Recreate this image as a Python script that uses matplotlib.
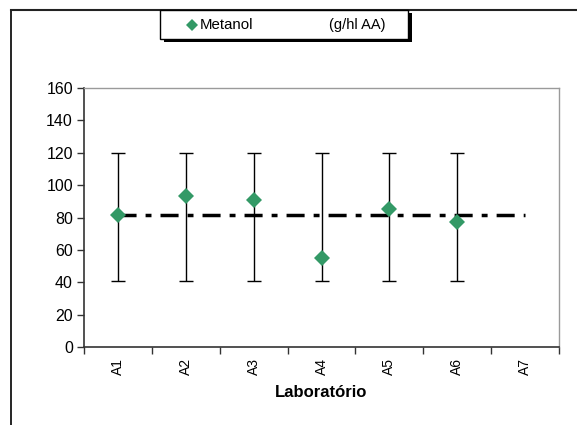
import matplotlib
matplotlib.use("Agg")
import matplotlib.pyplot as plt
import numpy as np
from matplotlib.lines import Line2D
from matplotlib.patches import Rectangle

plt.rcParams['font.family'] = ['Liberation Sans', 'DejaVu Sans']

labs = ["A1", "A2", "A3", "A4", "A5", "A6", "A7"]
values = [81.5, 93.3, 91.0, 55.0, 85.1, 77.0]
low = [41, 41, 41, 41, 41, 41]
high = [120, 120, 120, 120, 120, 120]
ref_value = 81.4

W, H = 577, 425
fig = plt.figure(figsize=(W/100, H/100), dpi=100)

def fx(px): return px / W
def fy(py): return 1 - py / H

ax = fig.add_axes([fx(84), fy(347), fx(559) - fx(84), fy(88) - fy(347)])

xs = np.arange(len(values))
vals = np.array(values)
lo = np.array(low); hi = np.array(high)
ax.errorbar(xs, vals, yerr=[vals - lo, hi - vals], fmt='none', ecolor='black',
            elinewidth=1.0, capsize=5, capthick=1.0, zorder=2)
ax.plot([0, len(labs) - 1], [ref_value, ref_value], color='black', lw=2.5,
        linestyle=(0, (5.2, 2.6, 1.7, 2.6)), zorder=3)
ax.plot(xs, vals, linestyle='none', marker='D', color='#339966', markersize=8.5,
        markeredgewidth=0, zorder=4)

ax.set_xlim(-0.5, len(labs) - 0.5)
ax.set_ylim(0, 160)
ax.set_yticks(np.arange(0, 161, 20))
ax.set_xticks(np.arange(len(labs)))
ax.set_xticklabels(labs, rotation=90, fontsize=10)
ax.set_xticks(np.arange(-0.5, len(labs)), minor=True)
ax.tick_params(axis='x', which='major', length=0, pad=8)
ax.tick_params(axis='x', which='minor', length=5, direction='out', width=1, color='#333333')
ax.tick_params(axis='y', length=5, direction='out', width=1, color='#333333', labelsize=11.5, pad=3)
for s in ['left', 'bottom']:
    ax.spines[s].set_color('#333333'); ax.spines[s].set_linewidth(1.2)
for s in ['top', 'right']:
    ax.spines[s].set_color('#9a9a9a'); ax.spines[s].set_linewidth(1.0)
ax.set_xlabel('Laboratório', fontsize=12, fontweight='bold', labelpad=7)

# figure border lines
fig.add_artist(Line2D([fx(11), fx(11)], [fy(10), 0], color='black', lw=1.2))
fig.add_artist(Line2D([fx(11), 1], [fy(10), fy(10)], color='#222222', lw=1.5))

# legend box with shadow
fig.add_artist(Rectangle((fx(164), fy(42)), fx(408) - fx(160), fy(10) - fy(39),
                         facecolor='black', edgecolor='none', zorder=5))
fig.add_artist(Rectangle((fx(160), fy(39)), fx(408) - fx(160), fy(10) - fy(39),
                         facecolor='white', edgecolor='black', lw=1.0, zorder=6))
fig.add_artist(Line2D([fx(192)], [fy(25)], marker='D', color='#339966', markersize=6.5,
                      markeredgewidth=0, linestyle='none', zorder=7))
fig.text(fx(200), fy(25), 'Metanol', fontsize=10.8, va='center', ha='left', zorder=7)
fig.text(fx(329), fy(25), '(g/hl AA)', fontsize=10.5, va='center', ha='left', zorder=7)

fig.savefig('out.png', dpi=100)
